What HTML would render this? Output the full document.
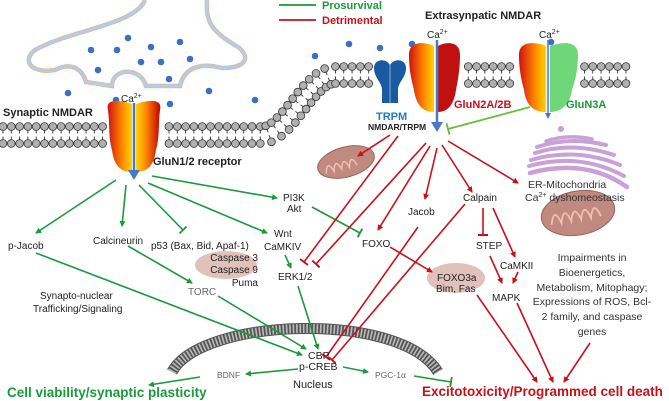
<!DOCTYPE html>
<html><head><meta charset="utf-8">
<style>
body{margin:0;background:#fff}
svg{display:block;font-family:"Liberation Sans",sans-serif}
</style></head>
<body>
<svg id="fig" width="669" height="401" viewBox="0 0 669 401" xmlns="http://www.w3.org/2000/svg">
<defs>
<linearGradient id="gl" x1="0" y1="0" x2="1" y2="0"><stop offset="0" stop-color="#d01010"/><stop offset="0.6" stop-color="#ff8a00"/><stop offset="1" stop-color="#ffd400"/></linearGradient>
<linearGradient id="gr" x1="0" y1="0" x2="1" y2="0"><stop offset="0" stop-color="#ffd400"/><stop offset="0.4" stop-color="#ff8a00"/><stop offset="1" stop-color="#c00000"/></linearGradient>
<marker id="ag" markerWidth="6" markerHeight="6" refX="5" refY="3" orient="auto" markerUnits="userSpaceOnUse"><path d="M0,0 L6,3 L0,6 Z" fill="#1a9a3a"/></marker>
<marker id="ar" markerWidth="6" markerHeight="6" refX="5" refY="3" orient="auto" markerUnits="userSpaceOnUse"><path d="M0,0 L6,3 L0,6 Z" fill="#c8101a"/></marker>
<marker id="bg" markerWidth="2" markerHeight="10" refX="1" refY="5" orient="auto" markerUnits="userSpaceOnUse"><rect x="0" y="0" width="2" height="10" fill="#1a9a3a"/></marker>
<marker id="br" markerWidth="2" markerHeight="10" refX="1" refY="5" orient="auto" markerUnits="userSpaceOnUse"><rect x="0" y="0" width="2" height="10" fill="#c8101a"/></marker>
<marker id="bl" markerWidth="2" markerHeight="12" refX="1" refY="6" orient="auto" markerUnits="userSpaceOnUse"><rect x="0" y="0" width="2" height="12" fill="#6abf3a"/></marker>
<marker id="ab" markerWidth="12" markerHeight="12" refX="8" refY="6" orient="auto" markerUnits="userSpaceOnUse"><path d="M0,0 L10,6 L0,12 Z" fill="#4a78c8"/></marker>
</defs>

<path d="M145,0 C135,25 70,30 35,50 C22,60 30,74 55,70 C70,62 82,68 86,82 L112,86 C112,68 140,66 146,86 L180,86 C184,68 200,62 222,68 C248,68 250,56 238,47 C215,33 205,25 207,0" fill="none" stroke="#f3b48a" stroke-width="4.5"/>
<path d="M145,0 C135,25 70,30 35,50 C22,60 30,74 55,70 C70,62 82,68 86,82 L112,86 C112,68 140,66 146,86 L180,86 C184,68 200,62 222,68 C248,68 250,56 238,47 C215,33 205,25 207,0" fill="none" stroke="#a8d0f0" stroke-width="2.8"/>

<g id="membrane"></g>
<g id="dots"></g>

<path d="M172,372 C200,318 400,310 438,372" fill="none" stroke="#555" stroke-width="11"/>
<path d="M172,372 C200,318 400,310 438,372" fill="none" stroke="#bbb" stroke-width="9" stroke-dasharray="1.6 1.8"/>

<g>
<path d="M108,110 C105,98 120,100 132,104 L132,172 C120,172 114,165 112,150 C108,135 110,125 108,110Z" fill="url(#gl)"/>
<path d="M160,110 C163,98 148,100 136,104 L136,172 C148,172 154,165 156,150 C160,135 158,125 160,110Z" fill="url(#gr)"/>
<line x1="134" y1="103" x2="134" y2="178" stroke="#4a78c8" stroke-width="2.5" marker-end="url(#ab)"/>
</g>
<g>
<path d="M374,68 C374,58 388,58 390,66 C392,58 406,58 406,68 C406,78 398,82 398,90 L398,103 L382,103 L382,90 C382,82 374,78 374,68Z" fill="#1a5aa0"/>
<line x1="390" y1="64" x2="390" y2="103" stroke="#8ab0e0" stroke-width="1"/>
</g>
<g>
<path d="M409,55 C409,40 425,42 434,46 L434,112 C422,112 416,104 414,90 C410,75 409,65 409,55Z" fill="url(#gl)"/>
<path d="M460,55 C460,40 445,42 438,46 L438,112 C448,112 454,104 456,90 C459,75 460,65 460,55Z" fill="#c01010"/>
<line x1="437" y1="40" x2="437" y2="130" stroke="#4a78c8" stroke-width="2.5" marker-end="url(#ab)"/>
</g>
<g>
<path d="M519,55 C519,40 536,42 546,46 L546,112 C532,112 526,104 524,90 C520,75 519,65 519,55Z" fill="url(#gl)"/>
<path d="M578,55 C578,40 562,42 550,46 L550,112 C562,112 570,104 572,90 C577,75 578,65 578,55Z" fill="#6fd67a"/>
<line x1="548" y1="40" x2="548" y2="116" stroke="#4a78c8" stroke-width="1.5"/>
<path d="M545,113 L551,113 L548,119Z" fill="#4a78c8"/>
</g>

<g>
<ellipse cx="346" cy="162" rx="29" ry="15" transform="rotate(-15 346 162)" fill="#c08a80" stroke="#9a6258"/>
<path d="M324,168 q4,-14 8,0 q4,-14 8,0 q4,-14 8,0 q4,-14 8,0" fill="none" stroke="#f0c0b0" stroke-width="1.5" transform="rotate(-15 346 162)"/>
</g>
<g>
<ellipse cx="578" cy="213" rx="37" ry="22" transform="rotate(-10 578 213)" fill="#c08a80" stroke="#9a6258"/>
<path d="M550,220 q5,-18 10,0 q5,-18 10,0 q5,-18 10,0 q5,-18 10,0 q5,-18 10,0" fill="none" stroke="#f0c0b0" stroke-width="1.8" transform="rotate(-10 578 213)"/>
</g>
<g fill="none" stroke="#c9a0d8" stroke-width="4" stroke-linecap="round">
<path d="M546,141 Q568,134 592,139" stroke-width="3.5"/>
<path d="M537,147 Q570,136 606,145"/>
<path d="M535,153 Q572,141 614,155"/>
<path d="M531,160 Q576,147 620,165"/>
<path d="M529,166 Q580,152 624,176"/>
<path d="M530,173 Q586,158 627,187" stroke-width="4.5"/>
<circle cx="561" cy="129" r="3" fill="#c9a0d8" stroke="none"/>
</g>
<ellipse cx="226" cy="265" rx="31" ry="14" fill="#d9b2aa" opacity="0.8"/>
<ellipse cx="456" cy="278" rx="29" ry="15" fill="#d9b2aa" opacity="0.8"/>

<g stroke="#1a9a3a" stroke-width="1.6" fill="none">
<line x1="116" y1="180" x2="36" y2="233" marker-end="url(#ag)"/>
<line x1="126" y1="185" x2="122" y2="226" marker-end="url(#ag)"/>
<line x1="139" y1="185" x2="183" y2="230" marker-end="url(#bg)"/>
<line x1="148" y1="183" x2="267" y2="233" marker-end="url(#ag)"/>
<line x1="152" y1="176" x2="277" y2="198" marker-end="url(#ag)"/>
<line x1="36" y1="253" x2="302" y2="355" marker-end="url(#ag)"/>
<line x1="128" y1="246" x2="192" y2="283" marker-end="url(#ag)"/>
<line x1="218" y1="296" x2="306" y2="349" marker-end="url(#ag)"/>
<line x1="285" y1="255" x2="291" y2="268" marker-end="url(#ag)"/>
<line x1="298" y1="286" x2="318" y2="349" marker-end="url(#ag)"/>
<line x1="312" y1="207" x2="360" y2="233" marker-end="url(#bg)"/>
<line x1="298" y1="369" x2="246" y2="374" marker-end="url(#ag)"/>
<line x1="200" y1="377" x2="149" y2="385" marker-end="url(#ag)"/>
<line x1="343" y1="367" x2="368" y2="372" marker-end="url(#ag)"/>
<line x1="414" y1="376" x2="451" y2="382" marker-end="url(#bg)"/>
</g>
<line x1="530" y1="107" x2="448" y2="129" stroke="#6abf3a" stroke-width="1.8" marker-end="url(#bl)"/>

<g stroke="#c8101a" stroke-width="1.6" fill="none">
<line x1="390" y1="135" x2="358" y2="156" marker-end="url(#ar)"/>
<line x1="398" y1="136" x2="304" y2="262" marker-end="url(#br)"/>
<line x1="426" y1="143" x2="316" y2="264" marker-end="url(#br)"/>
<line x1="430" y1="146" x2="378" y2="230" marker-end="url(#ar)"/>
<line x1="437" y1="148" x2="425" y2="199" marker-end="url(#ar)"/>
<line x1="442" y1="145" x2="472" y2="192" marker-end="url(#ar)"/>
<line x1="448" y1="141" x2="518" y2="183" marker-end="url(#ar)"/>
<line x1="418" y1="227" x2="326" y2="357" marker-end="url(#br)"/>
<line x1="465" y1="204" x2="332" y2="360" marker-end="url(#br)"/>
<line x1="390" y1="247" x2="432" y2="272" marker-end="url(#ar)"/>
<line x1="477" y1="295" x2="537" y2="382" marker-end="url(#ar)"/>
<line x1="483" y1="208" x2="483" y2="235" marker-end="url(#br)"/>
<line x1="493" y1="208" x2="515" y2="257" marker-end="url(#ar)"/>
<line x1="490" y1="256" x2="502" y2="283" marker-end="url(#ar)"/>
<line x1="518" y1="272" x2="513" y2="283" marker-end="url(#ar)"/>
<line x1="517" y1="303" x2="553" y2="382" marker-end="url(#ar)"/>
<line x1="590" y1="343" x2="564" y2="382" marker-end="url(#ar)"/>
</g>

<line x1="279" y1="5" x2="316" y2="5" stroke="#1a9a3a" stroke-width="1.8"/>
<text x="322" y="9" font-size="11" font-weight="bold" fill="#1a9a3a">Prosurvival</text>
<line x1="279" y1="20" x2="316" y2="20" stroke="#c8101a" stroke-width="1.8"/>
<text x="322" y="24" font-size="11" font-weight="bold" fill="#c8101a">Detrimental</text>

<g font-size="10" fill="#222">
<text x="3" y="116" font-size="11" font-weight="bold">Synaptic NMDAR</text>
<text x="121" y="102" font-size="10">Ca<tspan font-size="7" dy="-4">2+</tspan></text>
<text x="153" y="165" font-size="11" font-weight="bold">GluN1/2 receptor</text>
<text x="425" y="19" font-size="11" font-weight="bold">Extrasynpatic NMDAR</text>
<text x="427" y="38">Ca<tspan font-size="7" dy="-4">2+</tspan></text>
<text x="539" y="38">Ca<tspan font-size="7" dy="-4">2+</tspan></text>
<text x="376" y="120" font-size="11" font-weight="bold" fill="#1f7bc8">TRPM</text>
<text x="368" y="130" font-size="8.5" font-weight="bold">NMDAR/TRPM</text>
<text x="454" y="108" font-size="11" font-weight="bold" fill="#c8101a">GluN2A/2B</text>
<text x="566" y="108" font-size="11" font-weight="bold" fill="#1a9a3a">GluN3A</text>

<text x="8" y="249">p-Jacob</text>
<text x="93" y="244">Calcineurin</text>
<text x="151" y="249">p53 (Bax, Bid, Apaf-1)</text>
<g text-anchor="end"><text x="258" y="261">Caspase 3</text><text x="258" y="273">Caspase 9</text><text x="258" y="286">Puma</text></g>
<text x="274" y="237">Wnt</text>
<text x="264" y="250">CaMKIV</text>
<text x="278" y="280">ERK1/2</text>
<text x="283" y="201">PI3K</text>
<text x="287" y="212">Akt</text>
<text x="188" y="295" fill="#666">TORC</text>
<text x="40" y="299">Synapto-nuclear</text>
<text x="33" y="312">Trafficking/Signaling</text>
<text x="308" y="359" font-size="10.5">CBP</text>
<text x="299" y="370" font-size="10.5">p-CREB</text>
<text x="293" y="388" font-size="11">Nucleus</text>
<text x="217" y="378" font-size="8.5" fill="#666">BDNF</text>
<text x="375" y="378" font-size="8.5" fill="#666">PGC-1α</text>
<text x="408" y="215">Jacob</text>
<text x="463" y="201">Calpain</text>
<text x="362" y="247">FOXO</text>
<text x="437" y="281">FOXO3a</text>
<text x="436" y="292">Bim, Fas</text>
<text x="476" y="249">STEP</text>
<text x="500" y="269">CaMKII</text>
<text x="492" y="301">MAPK</text>
<g fill="#333" font-size="10.5">
<text x="528" y="188">ER-Mitochondria</text>
<text x="525" y="201">Ca<tspan font-size="7" dy="-4">2+</tspan><tspan dy="4"> dyshomeostasis</tspan></text>
</g>
<g text-anchor="middle" fill="#333" font-size="10.5">
<text x="592" y="261">Impairments in</text>
<text x="592" y="276">Bioenergetics,</text>
<text x="592" y="291">Metabolism, Mitophagy;</text>
<text x="592" y="305">Expressions of ROS, Bcl-</text>
<text x="592" y="320">2 family, and caspase</text>
<text x="592" y="335">genes</text>
</g>
<text x="7" y="397" font-size="13.5" font-weight="bold" fill="#1a9a3a">Cell viability/synaptic plasticity</text>
<text x="422" y="396" font-size="13.5" font-weight="bold" fill="#c8101a">Excitotoxicity/Programmed cell death</text>
</g>
</svg>
<script>
var ns="http://www.w3.org/2000/svg";
var mem=document.getElementById('membrane');
function cy(x){ if(x<262) return 135; if(x>335) return 75; var t=(x-262)/73; return 135-60*(1-Math.cos(Math.PI*t))/2; }
function slope(x){ return (cy(x+1)-cy(x-1))/2; }
var x=3;
while(x<632){
  if(!((x>104&&x<162)||(x>408&&x<460)||(x>517&&x<579)||(x>373&&x<407))){
    var y=cy(x), s=slope(x), n=Math.sqrt(1+s*s), nx=-s/n, ny=1/n;
    for(var k=-1;k<=1;k+=2){
      var hx=x+nx*8.5*k, hy=y+ny*8.5*k;
      var l=document.createElementNS(ns,'line');
      l.setAttribute('x1',hx);l.setAttribute('y1',hy);l.setAttribute('x2',x+nx*1.5*k);l.setAttribute('y2',y+ny*1.5*k);
      l.setAttribute('stroke','#333');l.setAttribute('stroke-width','0.9');
      mem.appendChild(l);
      var c=document.createElementNS(ns,'circle');
      c.setAttribute('cx',hx);c.setAttribute('cy',hy);c.setAttribute('r','3.9');
      c.setAttribute('fill','#b0b0b0');c.setAttribute('stroke','#333');c.setAttribute('stroke-width','0.8');
      mem.appendChild(c);
    }
  }
  x+=8.3/Math.sqrt(1+slope(x)*slope(x));
}
var dotsPos=[[128,38],[91,50],[117,50],[151,47],[180,42],[141,62],[161,62],[190,59],[98,70],[169,79],[68,93],[116,100],[170,104],[209,91],[255,100],[315,56],[349,44],[380,48],[412,44],[551,42]];
var dg=document.getElementById('dots');
dotsPos.forEach(function(p){
  var c=document.createElementNS(ns,'circle');
  
  
  c.setAttribute('cx',p[0]);c.setAttribute('cy',p[1]);c.setAttribute('r','3.3');c.setAttribute('fill','#3f6fc0');
  dg.appendChild(c);
});
</script>
</body></html>
